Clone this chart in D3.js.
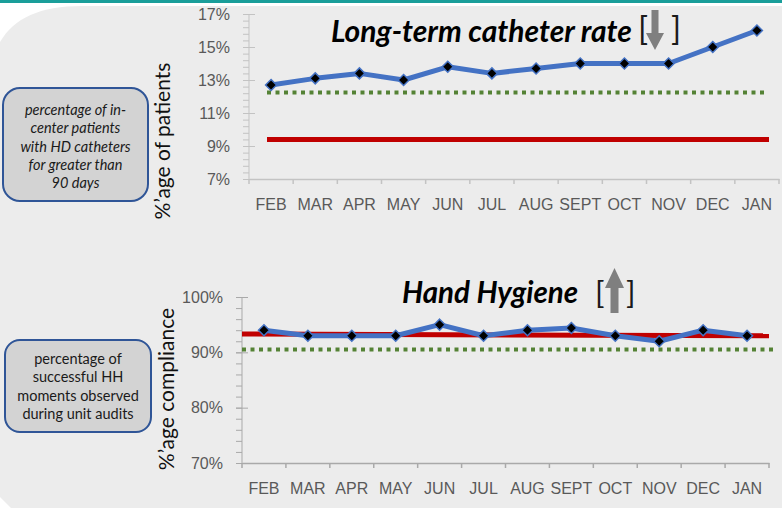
<!doctype html>
<html>
<head>
<meta charset="utf-8">
<style>
  body { margin: 0; background: #fff; }
  svg { display: block; font-family: "Lato", "Open Sans", sans-serif; }
  .tick text { fill: #595959; font-size: 16px; }
</style>
<script src="https://d3js.org/d3.v7.min.js"></script>
</head>
<body>
<svg width="782" height="508"></svg>
<script>
// ---- data ----
var months = ["FEB", "MAR", "APR", "MAY", "JUN", "JUL", "AUG", "SEPT", "OCT", "NOV", "DEC", "JAN"];

var catheterRate = [12.7, 13.1, 13.4, 13.0, 13.8, 13.4, 13.7, 14.0, 14.0, 14.0, 15.0, 16.0];
var catheterTarget = 9.4;     // red line
var catheterBench = 12.25;    // green dotted line
var catheterTicks = [7, 9, 11, 13, 15, 17];

var hygiene = [94, 93, 93, 93, 95, 93, 94, 94.4, 93, 92, 94, 93];
var hygieneTarget = [93.3, 93.0];   // red line, start and end
var hygieneBench = 90.5;            // green dotted line
var hygieneTicks = [70, 80, 90, 100];

var blue = "#4472c4", red = "#c00000", green = "#548235";

var svg = d3.select("svg");

// background
svg.append("rect").attr("width", 782).attr("height", 3).attr("fill", "#1a9e9a");
svg.append("path")
    .attr("d", "M0,42 C14,18 40,6 82,6 L782,6 L782,508 L11,508 L0,497 Z")
    .attr("fill", "#ececec");

// diamond marker
var diamond = "M0,-5.5L5.5,0L0,5.5L-5.5,0Z";

function drawPanel(opt) {
    var x = d3.scaleBand().domain(months).range(opt.xRange);
    var y = d3.scaleLinear().domain(opt.yDomain).range(opt.yRange);
    var g = svg.append("g");

    // minor ticks on y
    g.append("g")
        .attr("transform", "translate(" + opt.xRange[0] + ",0)")
        .call(d3.axisLeft(y).tickValues(d3.range(opt.yDomain[0], opt.yDomain[1] + 0.001, opt.minor)).tickSize(6).tickFormat(""))
        .call(function (a) {
            a.select(".domain").remove();
            a.selectAll("line").attr("stroke", opt.axisColor);
        });

    // major ticks + labels (ticks cross the axis)
    g.append("g")
        .attr("transform", "translate(" + opt.xRange[0] + ",0)")
        .call(d3.axisLeft(y).tickValues(opt.ticks).tickSize(6).tickPadding(13).tickFormat(function (d) { return d + "%"; }))
        .call(function (a) {
            a.select(".domain").attr("stroke", opt.axisColor).attr("d", "M0," + opt.yRange[0] + "V" + opt.yRange[1]);
            a.selectAll("line").attr("stroke", opt.axisColor).attr("x1", 6).attr("x2", -6);
        });

    // x axis
    g.append("g")
        .attr("transform", "translate(0," + opt.yRange[0] + ")")
        .call(d3.axisBottom(x).tickSize(0).tickPadding(20))
        .call(function (a) {
            a.select(".domain").attr("stroke", opt.axisColor).attr("stroke-width", 1.5);
        });
    var bounds = months.map(function (m) { return x(m); }).concat([opt.xRange[1]]);
    g.selectAll(".xtick").data(bounds).enter().append("line")
        .attr("class", "xtick")
        .attr("x1", function (d) { return d; }).attr("x2", function (d) { return d; })
        .attr("y1", opt.yRange[0]).attr("y2", opt.yRange[0] + 5)
        .attr("stroke", opt.axisColor).attr("stroke-width", 1.5);

    // target (red) and benchmark (green dotted)
    g.append("line")
        .attr("x1", opt.redX[0]).attr("x2", opt.redX[1])
        .attr("y1", y(opt.red[0])).attr("y2", y(opt.red[1]))
        .attr("stroke", red).attr("stroke-width", 5);
    g.append("line")
        .attr("x1", opt.greenX[0]).attr("x2", opt.greenX[1])
        .attr("y1", y(opt.green)).attr("y2", y(opt.green))
        .attr("stroke", green).attr("stroke-width", 4).attr("stroke-dasharray", "4,4.5");

    // series
    var line = d3.line()
        .x(function (d, i) { return x(months[i]) + x.bandwidth() / 2; })
        .y(function (d) { return y(d); });
    g.append("path").datum(opt.values)
        .attr("d", line).attr("fill", "none")
        .attr("stroke", blue).attr("stroke-width", 5).attr("stroke-linejoin", "round");
    g.selectAll(".pt").data(opt.values).enter().append("path")
        .attr("class", "pt")
        .attr("d", diamond)
        .attr("transform", function (d, i) { return "translate(" + (x(months[i]) + x.bandwidth() / 2) + "," + y(d) + ")"; })
        .attr("fill", "#000").attr("stroke", blue).attr("stroke-width", 1.5);

    // y axis title
    svg.append("text")
        .attr("transform", "translate(" + opt.titleX + "," + opt.titleY + ") rotate(-90)")
        .attr("text-anchor", "middle")
        .attr("font-size", 21).attr("fill", "#111")
        .text(opt.yTitle);

    // side note box
    var b = opt.box;
    svg.append("rect")
        .attr("x", b.x).attr("y", b.y).attr("width", b.w).attr("height", b.h)
        .attr("rx", b.r).attr("ry", b.r)
        .attr("fill", "#d3d3d3").attr("stroke", "#2f5597").attr("stroke-width", 2);
    svg.append("g").selectAll("text").data(b.lines).enter().append("text")
        .attr("x", b.x + b.w / 2)
        .attr("y", function (d, i) { return b.firstLine + i * b.lineH; })
        .attr("text-anchor", "middle")
        .attr("font-size", 14.5)
        .attr("font-style", b.italic ? "italic" : "normal")
        .attr("fill", "#1a1a1a")
        .text(function (d) { return d; });
}

drawPanel({
    xRange: [249, 779], yRange: [179, 14], yDomain: [7, 17], ticks: catheterTicks, minor: 0.4,
    axisColor: "#c3c3c3", values: catheterRate,
    red: [catheterTarget, catheterTarget], redX: [267, 769],
    green: catheterBench, greenX: [267, 765],
    yTitle: "%\u2019age of patients", titleX: 170, titleY: 141,
    box: { x: 3, y: 88, w: 145, h: 113, r: 17, firstLine: 115, lineH: 18.3, italic: true,
        lines: ["percentage of in-", "center patients", "with HD catheters", "for greater than", "90 days"] }
});

drawPanel({
    xRange: [242, 769], yRange: [463, 297], yDomain: [70, 100], ticks: hygieneTicks, minor: 2,
    axisColor: "#a9a9a9", values: hygiene,
    red: hygieneTarget, redX: [242, 769],
    green: hygieneBench, greenX: [242, 775],
    yTitle: "%\u2019age compliance", titleX: 174, titleY: 389,
    box: { x: 5, y: 340, w: 146, h: 92, r: 15, firstLine: 364, lineH: 18.3, italic: false,
        lines: ["percentage of", "successful HH", "moments observed", "during unit audits"] }
});

// titles with trend arrows
function title(txt, x0, base, size, b1, b2, bBase, bSize, arrow) {
    svg.append("text")
        .attr("x", x0).attr("y", base)
        .attr("font-size", size).attr("font-weight", "bold").attr("font-style", "italic")
        .attr("fill", "#000").text(txt);
    svg.append("text").attr("x", b1).attr("y", bBase).attr("font-size", bSize).attr("fill", "#1a1a1a").text("[");
    svg.append("text").attr("x", b2).attr("y", bBase).attr("font-size", bSize).attr("fill", "#1a1a1a").text("]");
    svg.append("path").attr("d", arrow).attr("fill", "#7f7f7f");
}

title("Long-term catheter rate", 331, 42, 30, 638, 671, 40, 33,
    "M651.5,10H658.5V33H664L655,50L646,33H651.5Z");
title("Hand Hygiene", 402, 303, 29.5, 595, 626, 304, 31,
    "M610.5,313V288H605L614.5,268L624,288H618.5V313Z");
</script>
</body>
</html>
